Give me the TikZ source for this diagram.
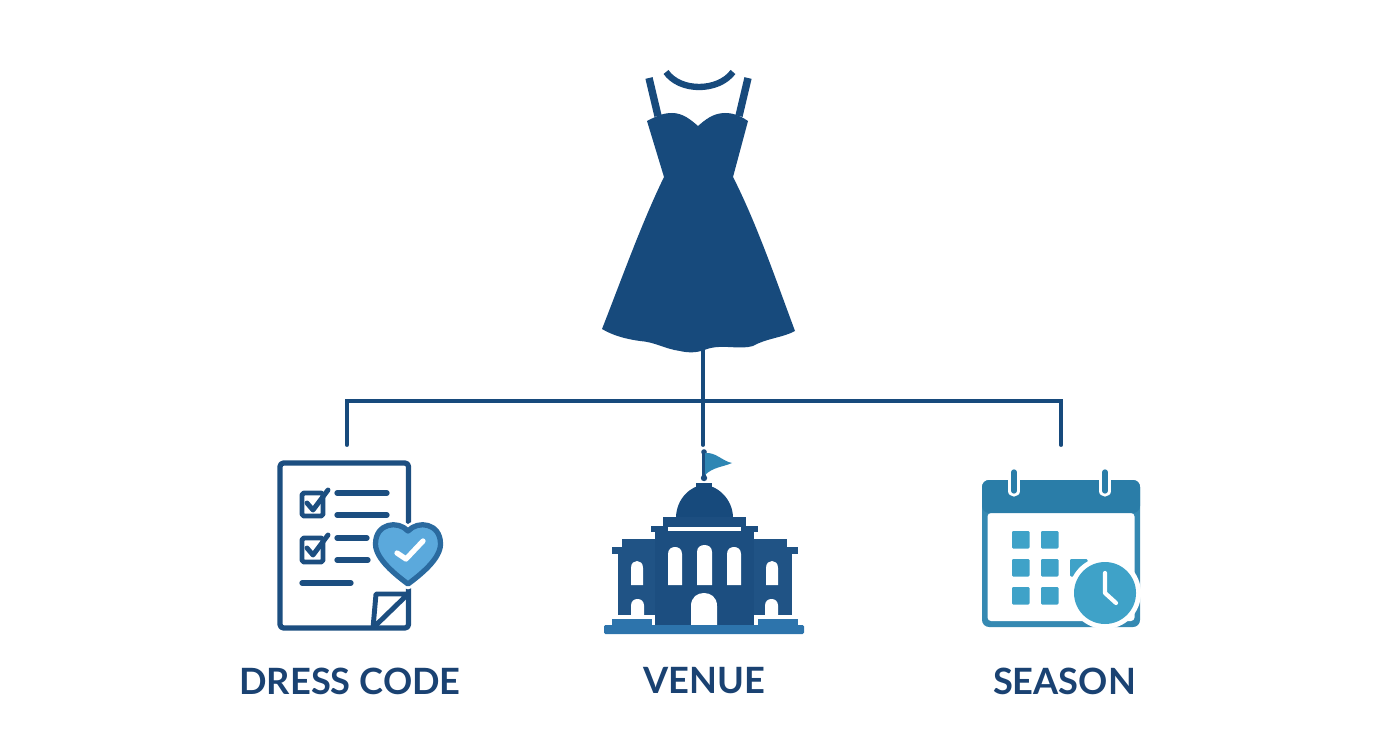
\documentclass[tikz,border=0pt]{standalone}
\usepackage{fontspec}
\setsansfont{Lato}
\usepackage{xcolor}
\usepackage{tikz}
\usetikzlibrary{positioning}
\definecolor{navy}{HTML}{174A7C}
\definecolor{label}{HTML}{1A4272}
\definecolor{ink}{HTML}{1C4E80}
\definecolor{wing}{HTML}{205385}
\definecolor{plinth}{HTML}{2D74AC}
\definecolor{flag}{HTML}{2E86B4}
\definecolor{sky}{HTML}{5BA9DC}
\definecolor{rim}{HTML}{2A6A9F}
\definecolor{teal}{HTML}{2A7DA8}
\definecolor{frame}{HTML}{3589B2}
\definecolor{tile}{HTML}{3FA2C8}
\tikzstyle{hub} = [coordinate]
\tikzstyle{edge} = [draw=navy, line width=1.1pt, line cap=round]
\tikzstyle{caption} = [font=\sffamily\bfseries\fontsize{10.3}{13}\selectfont, text=label, inner sep=0pt]
\tikzstyle{stroke} = [draw=ink, line width=1.5pt, line cap=round, line join=round]
\tikzstyle{tick} = [draw=ink, line width=1.4pt, line cap=round, line join=round]
\tikzstyle{tile} = [fill=tile, rounded corners=0.3pt]
\tikzstyle{hole} = [fill=white]

\begin{document}
\begin{tikzpicture}[x=0.01cm, y=-0.01cm]
  \useasboundingbox (0,0) rectangle (1392,752);
  % Place nodes
  \node [hub] (venue) at (703,445) {};
  \node [hub, left of=venue, node distance=3.56cm] (code) {};
  \node [hub, right of=venue, node distance=3.58cm] (season) {};
  \node [hub, above of=venue, node distance=0.95cm] (dress) {};
  \node [hub, above of=venue, node distance=0.44cm] (joint) {};
  \path [edge] (dress) -- (venue);
  \path [edge] (code) |- (joint) -| (season);

  \node [caption] (codetext) at (350,681) {DRESS CODE};
  \node [caption] (venuetext) at (704.5,681) {VENUE};
  \node [caption] (seasontext) at (1064.5,681) {SEASON};

  % dress
  \fill [navy] (647,121) .. controls (655,117) and (662,113) .. (672,113)
    .. controls (683,113) and (691,120) .. (698,126)
    .. controls (705,120) and (713,113) .. (725,113)
    .. controls (735,113) and (742,117) .. (748,121)
    -- (733,177) .. controls (757,224) and (777,283) .. (795,331)
    .. controls (782,338) and (767,338) .. (753,346)
    .. controls (740,350) and (722,344) .. (707,349)
    .. controls (698,353) and (688,353) .. (680,351)
    .. controls (665,349) and (655,342) .. (640,341)
    .. controls (625,339) and (612,335) .. (602,329)
    .. controls (622,278) and (642,222) .. (664,177) -- cycle;
  \draw [navy, line width=2.1pt] (649,78) -- (658,116);
  \draw [navy, line width=2.1pt] (748,78) -- (739,116);
  \draw [navy, line width=1.8pt] (666,72) .. controls (680,92) and (718,92) .. (733,72);

  % dress code sheet
  \draw [stroke, rounded corners=1pt] (280,463) rectangle (408.5,628);
  \draw [tick, rounded corners=0.5pt] (302,493) rectangle (323,516);
  \draw [tick, rounded corners=0.5pt] (302,538) rectangle (323,562);
  \draw [tick] (307,503) -- (313,510) -- (328,490);
  \draw [tick] (307,548) -- (313,555) -- (328,535);
  \draw [stroke] (337,493) -- (387,493);
  \draw [stroke] (337,515) -- (387,515);
  \draw [stroke] (337,538) -- (367,538);
  \draw [stroke] (337,560) -- (368,560);
  \draw [stroke] (302,583) -- (351,583);
  \draw [tick, line join=bevel, line cap=butt] (373,628) -- (376,594) -- (408,594) -- cycle;
  \draw [white, line width=3pt, line join=round, fill=white] (408,531)
    .. controls (398,520) and (375.5,523) .. (375.5,544)
    .. controls (375.5,559) and (396,575) .. (408,584)
    .. controls (420,575) and (440.5,559) .. (440.5,544)
    .. controls (440.5,523) and (418,520) .. (408,531) -- cycle;
  \draw [rim, line width=1.5pt, fill=sky, line join=round] (408,531)
    .. controls (398,520) and (375.5,523) .. (375.5,544)
    .. controls (375.5,559) and (396,575) .. (408,584)
    .. controls (420,575) and (440.5,559) .. (440.5,544)
    .. controls (440.5,523) and (418,520) .. (408,531) -- cycle;
  \draw [white, line width=1.5pt, line cap=round, line join=round] (397,553) -- (406,559) -- (423,541);

  % venue
  \draw [ink, line width=0.9pt] (704,452) -- (704,478);
  \fill [ink] (704,452) circle (2.8);
  \fill [flag] (705,453) .. controls (716,452) and (722,461) .. (732,463)
    .. controls (723,467) and (713,467) .. (705,475) -- cycle;
  \fill [ink] (704,478) circle (3.2);
  \fill [navy] (696,483) rectangle (712,492);
  \fill [navy] (676,518) .. controls (676,498) and (692,485) .. (704,485)
    .. controls (716,485) and (733,498) .. (733,518) -- cycle;
  \fill [ink] (663,517) rectangle (746,526);
  \fill [ink] (651,526) rectangle (758,532);
  \fill [wing] (622,539) rectangle (787,547);
  \fill [wing] (612,547) rectangle (798,554);
  \fill [wing] (618,554) rectangle (792,615);
  \fill [ink] (655,532) rectangle (754,627);
  \fill [hole] (668,527) rectangle (741,531);
  \foreach \x/\w/\t in {668/14/547, 697/15/545, 727/14/547, 631/12/561, 766/12/561}
    \fill [hole] (\x,585) -- (\x,\t+7) .. controls (\x,\t+2) and (\x+\w*0.25,\t) .. (\x+\w*0.5,\t)
      .. controls (\x+\w*0.75,\t) and (\x+\w,\t+2) .. (\x+\w,\t+7) -- (\x+\w,585) -- cycle;
  \foreach \x/\w/\t/\b in {691/26/593/626, 631/13/599/617, 765/13/599/617}
    \fill [hole] (\x,\b) -- (\x,\t+\w*0.5) .. controls (\x,\t+\w*0.15) and (\x+\w*0.25,\t) .. (\x+\w*0.5,\t)
      .. controls (\x+\w*0.75,\t) and (\x+\w,\t+\w*0.15) .. (\x+\w,\t+\w*0.5) -- (\x+\w,\b) -- cycle;
  \fill [plinth] (612,619) rectangle (652,626);
  \fill [plinth] (758,619) rectangle (798,626);
  \fill [plinth, rounded corners=0.4pt] (604,625) rectangle (804,634);

  % season
  \fill [frame, rounded corners=2pt] (982,480) rectangle (1140,627);
  \fill [white, rounded corners=1pt] (987.5,513) rectangle (1134.5,621);
  \fill [teal, rounded corners=2pt] (982,480) -- (1140,480) -- (1140,513) -- (982,513) -- cycle;
  \draw [white, line width=3.2pt, line cap=round] (1014,476) -- (1014,491);
  \draw [white, line width=3.2pt, line cap=round] (1105,476) -- (1105,491);
  \draw [teal, line width=1.5pt, line cap=round] (1014,472) -- (1014,491);
  \draw [teal, line width=1.5pt, line cap=round] (1105,472) -- (1105,491);
  \foreach \x/\y in {1012/531, 1041/531, 1012/559, 1041/559, 1070/559, 1012/587, 1041/587}
    \fill [tile] (\x,\y) rectangle (\x+17.5,\y+17.5);
  \fill [white] (1105,593) circle (36);
  \fill [tile] (1105,593) circle (31);
  \draw [white, line width=1.2pt, line cap=round, line join=round] (1105,573) -- (1105,593) -- (1116,603);
\end{tikzpicture}
\end{document}
